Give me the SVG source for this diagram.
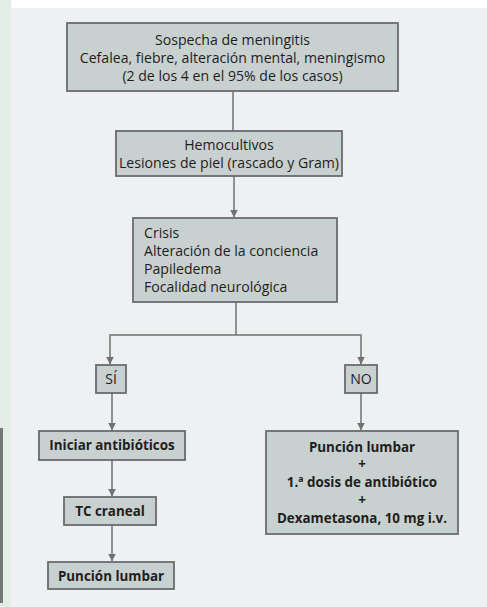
<svg xmlns="http://www.w3.org/2000/svg" width="487" height="607" viewBox="0 0 487 607">
<defs>
<style>
.box{fill:#c9d0d0;stroke:#6a6c6c;stroke-width:1.8}
.t{font-family:"Open Sans","Liberation Sans",sans-serif;font-size:14.1px;fill:#1e1e1e}
.c{text-anchor:middle}
.b{font-weight:bold;font-size:13.4px}
.ln{fill:none;stroke:#707272;stroke-width:1.5}
</style>
<marker id="ah" viewBox="0 0 8 8" refX="7.5" refY="4" markerWidth="8" markerHeight="8" markerUnits="userSpaceOnUse" orient="auto">
<path d="M0,0 L8,4 L0,8 z" fill="#707272"/>
</marker>
</defs>
<rect x="0" y="0" width="487" height="607" fill="#eff0f2"/>
<rect x="0" y="0" width="11" height="607" fill="#e3efe6"/>
<rect x="11" y="0" width="476" height="8" fill="#ffffff"/>
<rect x="0" y="428" width="3" height="175" fill="#767878"/>

<g id="connectors">
<line class="ln" x1="233" y1="91" x2="233" y2="131"/>
<line class="ln" x1="234" y1="176" x2="234" y2="217" marker-end="url(#ah)"/>
<line class="ln" x1="236" y1="302" x2="236" y2="335"/>
<polyline class="ln" points="236,335 110,335 110,364" marker-end="url(#ah)"/>
<polyline class="ln" points="236,335 361,335 361,364" marker-end="url(#ah)"/>
<line class="ln" x1="112" y1="393" x2="112" y2="430" marker-end="url(#ah)"/>
<line class="ln" x1="112" y1="460" x2="112" y2="496" marker-end="url(#ah)"/>
<line class="ln" x1="112" y1="525" x2="112" y2="561" marker-end="url(#ah)"/>
<line class="ln" x1="361" y1="393" x2="361" y2="430" marker-end="url(#ah)"/>
</g>

<g id="n1">
<rect class="box" x="67" y="23" width="331" height="68"/>
<text class="t c" x="232.5" y="45">Sospecha de meningitis</text>
<text class="t c" x="232.5" y="63">Cefalea, fiebre, alteración mental, meningismo</text>
<text class="t c" x="232.5" y="81">(2 de los 4 en el 95% de los casos)</text>
</g>
<g id="n2">
<rect class="box" x="116" y="131" width="226" height="45"/>
<text class="t c" x="229" y="150">Hemocultivos</text>
<text class="t c" x="229" y="168">Lesiones de piel (rascado y Gram)</text>
</g>
<g id="n3">
<rect class="box" x="133" y="218" width="204" height="84"/>
<text class="t" x="144" y="238">Crisis</text>
<text class="t" x="144" y="256">Alteración de la conciencia</text>
<text class="t" x="144" y="274">Papiledema</text>
<text class="t" x="144" y="292">Focalidad neurológica</text>
</g>
<g id="si">
<rect class="box" x="96" y="365" width="30" height="28"/>
<text class="t c" x="111" y="384">SÍ</text>
</g>
<g id="no">
<rect class="box" x="345" y="365" width="32" height="28"/>
<text class="t c" x="361" y="384">NO</text>
</g>
<g id="n4">
<rect class="box" x="39" y="431" width="146" height="29"/>
<text class="t c b" x="112" y="450">Iniciar antibióticos</text>
</g>
<g id="n5">
<rect class="box" x="64" y="497" width="92" height="28"/>
<text class="t c b" x="110" y="516">TC craneal</text>
</g>
<g id="n6">
<rect class="box" x="48" y="562" width="126" height="27"/>
<text class="t c b" x="111" y="581">Punción lumbar</text>
</g>
<g id="n7">
<rect class="box" x="266" y="431" width="192" height="103"/>
<text class="t c b" x="362" y="452">Punción lumbar</text>
<text class="t c b" x="362" y="469">+</text>
<text class="t c b" x="362" y="487">1.ª dosis de antibiótico</text>
<text class="t c b" x="362" y="505">+</text>
<text class="t c b" x="362" y="523">Dexametasona, 10 mg i.v.</text>
</g>
</svg>
